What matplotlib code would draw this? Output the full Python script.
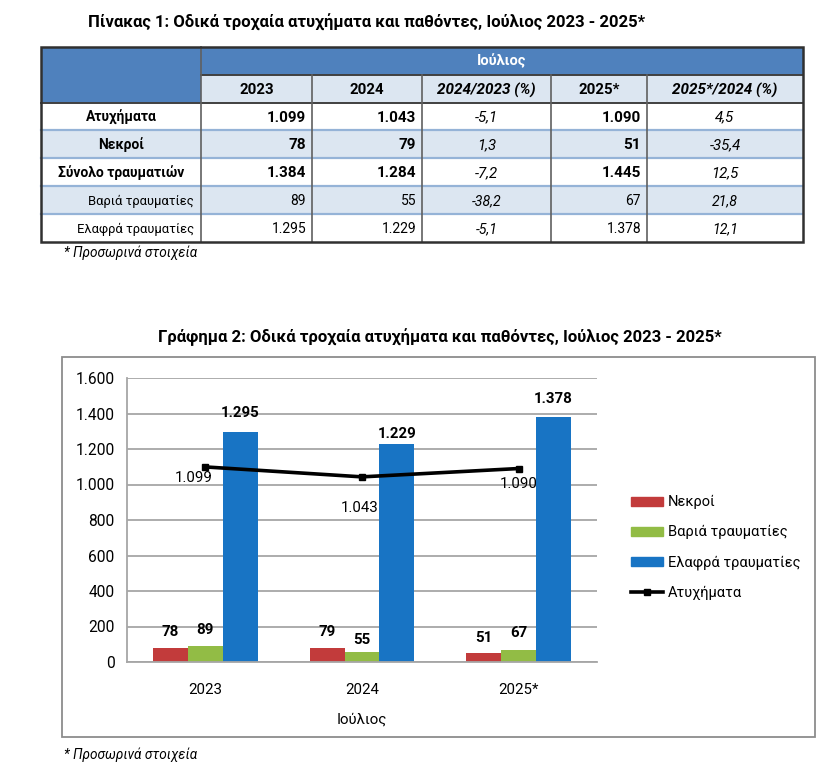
import matplotlib
matplotlib.use("Agg")
import matplotlib.pyplot as plt
from matplotlib.patches import Rectangle
from matplotlib.lines import Line2D
from matplotlib.patches import Patch

plt.rcParams['font.family'] = ['Roboto', 'DejaVu Sans']

# ---------------- data ----------------
table_title = "Πίνακας 1: Οδικά τροχαία ατυχήματα και παθόντες, Ιούλιος 2023 - 2025*"
chart_title = "Γράφημα 2: Οδικά τροχαία ατυχήματα και παθόντες, Ιούλιος 2023 - 2025*"
month_label = "Ιούλιος"
col_headers = ["2023", "2024", "2024/2023 (%)", "2025*", "2025*/2024 (%)"]
row_labels = ["Ατυχήματα", "Νεκροί", "Σύνολο τραυματιών", "Βαριά τραυματίες", "Ελαφρά τραυματίες"]
row_bold = [True, True, True, False, False]
v2023 = [1099, 78, 1384, 89, 1295]
v2024 = [1043, 79, 1284, 55, 1229]
pct_24_23 = [-5.1, 1.3, -7.2, -38.2, -5.1]
v2025 = [1090, 51, 1445, 67, 1378]
pct_25_24 = [4.5, -35.4, 12.5, 21.8, 12.1]
footnote = "* Προσωρινά στοιχεία"

years = ["2023", "2024", "2025*"]
nekroi = [78, 79, 51]
varia = [89, 55, 67]
elafra = [1295, 1229, 1378]
atyxhmata = [1099, 1043, 1090]
series_names = ["Νεκροί", "Βαριά τραυματίες", "Ελαφρά τραυματίες", "Ατυχήματα"]
y_ticks = [0, 200, 400, 600, 800, 1000, 1200, 1400, 1600]


def fmt_int(v):
    return f"{v:,}".replace(",", ".")


def fmt_pct(v):
    return f"{v:.1f}".replace(".", ",")


W, H = 838, 769
fig = plt.figure(figsize=(W / 100, H / 100), dpi=100)
bg = fig.add_axes([0, 0, 1, 1])
bg.set_xlim(0, W)
bg.set_ylim(H, 0)
bg.axis("off")

# ---------------- table ----------------
BLUE = "#4F81BD"
LIGHT = "#DCE6F1"
col_x = [41, 201, 312, 422, 551, 647, 803]
row_y = [47, 75, 103, 130, 158, 186, 214, 242]
fs_lab = 10.0
fs_num = 11.0

bg.text(88, 22, table_title, fontsize=12.0, fontweight="bold", va="center", ha="left", color="#000000")

# header backgrounds
bg.add_patch(Rectangle((col_x[0], row_y[0]), col_x[1] - col_x[0], row_y[2] - row_y[0], fc=BLUE, ec="none"))
bg.add_patch(Rectangle((col_x[1], row_y[0]), col_x[-1] - col_x[1], row_y[1] - row_y[0], fc=BLUE, ec="none"))
bg.add_patch(Rectangle((col_x[1], row_y[1]), col_x[-1] - col_x[1], row_y[2] - row_y[1], fc=LIGHT, ec="none"))
bg.text((col_x[1] + col_x[-1]) / 2, (row_y[0] + row_y[1]) / 2, month_label, color="white",
        fontsize=10.5, fontweight="bold", ha="center", va="center")
for j, h in enumerate(col_headers):
    cx = (col_x[j + 1] + col_x[j + 2]) / 2
    style = "italic" if "%" in h else "normal"
    bg.text(cx, (row_y[1] + row_y[2]) / 2 + 1, h, fontsize=11.0 if "%" in h else 10.8,
            fontweight="bold", style=style, ha="center", va="center")

cols = [v2023, v2024, pct_24_23, v2025, pct_25_24]
for i, lab in enumerate(row_labels):
    y0, y1 = row_y[i + 2], row_y[i + 3]
    yc = (y0 + y1) / 2 + 1
    fc = LIGHT if i % 2 == 1 else "white"
    bg.add_patch(Rectangle((col_x[0], y0), col_x[-1] - col_x[0], y1 - y0, fc=fc, ec="none"))
    b = row_bold[i]
    if b:
        bg.text((col_x[0] + col_x[1]) / 2, yc, lab, fontsize=fs_lab, fontweight="bold", ha="center", va="center")
    else:
        bg.text(col_x[1] - 7, yc, lab, fontsize=fs_lab - 0.6, ha="right", va="center")
    for j, col in enumerate(cols):
        v = col[i]
        if j in (2, 4):
            bg.text((col_x[j + 1] + col_x[j + 2]) / 2, yc, fmt_pct(v), fontsize=10.8 if b else 10.2,
                    style="italic", ha="center", va="center")
        else:
            bg.text(col_x[j + 2] - 6, yc, fmt_int(v), fontsize=fs_num if b else fs_num - 1.0,
                    fontweight="bold" if b else "normal", ha="right", va="center")

# grid lines of table
for y in row_y[3:-1]:
    bg.plot([col_x[0], col_x[-1]], [y, y], color="#95B3D7", lw=1.6, zorder=3)
bg.plot([col_x[1], col_x[-1]], [row_y[1], row_y[1]], color="#404040", lw=1.4, zorder=3)
bg.plot([col_x[0], col_x[-1]], [row_y[2], row_y[2]], color="#404040", lw=1.4, zorder=3)
for k, x in enumerate(col_x[1:-1]):
    ytop = row_y[0] if k == 0 else row_y[1]
    bg.plot([x, x], [ytop, row_y[-1]], color="#606060", lw=1.2, zorder=3)
bg.add_patch(Rectangle((col_x[0], row_y[0]), col_x[-1] - col_x[0], row_y[-1] - row_y[0],
                       fc="none", ec="#303030", lw=1.8, zorder=4))
bg.text(64, 253, footnote, fontsize=9.8, style="italic", ha="left", va="center")

# ---------------- chart ----------------
bg.text(440, 337, chart_title, fontsize=12.0, fontweight="bold", ha="center", va="center")
bg.add_patch(Rectangle((62, 357), 815 - 62, 737 - 357, fc="none", ec="#8C8C8C", lw=1.3))
bg.text(64, 755, footnote, fontsize=9.8, style="italic", ha="left", va="center")

ax_l, ax_r, ax_t, ax_b = 127, 597, 378, 662
ax = fig.add_axes([ax_l / W, 1 - ax_b / H, (ax_r - ax_l) / W, (ax_b - ax_t) / H])
ax.set_facecolor("none")
x = list(range(len(years)))
bw = 0.223
colors = ["#C23B3B", "#92BC45", "#1874C4"]
bar_series = [nekroi, varia, elafra]
offsets = [-bw, 0, bw]
label_gap = [[16, 16, 15], [16, 12, 17], [19, 10, 18]]
for s, (vals, c, off) in enumerate(zip(bar_series, colors, offsets)):
    xs = [xi + off for xi in x]
    ax.bar(xs, vals, width=bw, color=c, zorder=2, label=series_names[s])
    for k, (xx, v) in enumerate(zip(xs, vals)):
        ax.annotate(fmt_int(v), (xx, v), xytext=(0, label_gap[s][k] * 0.72), textcoords="offset points",
                    ha="center", va="center", fontsize=10.8, fontweight="bold", zorder=5)

ax.plot(x, atyxhmata, color="black", lw=2.6, marker="s", ms=4.5, zorder=4, label=series_names[3])
line_off = [(-12, 11), (-2, 31), (0, 15)]
for xi, v, (dx, dy) in zip(x, atyxhmata, line_off):
    ax.annotate(fmt_int(v), (xi, v), xytext=(dx * 0.72, -dy * 0.72), textcoords="offset points",
                ha="center", va="center", fontsize=10.8, zorder=5)

ax.set_xlim(-0.5, len(years) - 0.5)
ax.set_ylim(0, 1600)
ax.set_yticks(y_ticks)
ax.set_yticklabels([fmt_int(t) for t in y_ticks], fontsize=11.2)
ax.set_xticks(x)
ax.set_xticklabels(years, fontsize=10.8)
ax.tick_params(axis="both", length=0, pad=9)
ax.tick_params(axis="x", pad=15)
ax.yaxis.grid(True, color="#A6A6A6", lw=1.3, zorder=0)
ax.set_axisbelow(True)
for sp in ["top", "right"]:
    ax.spines[sp].set_visible(False)
ax.spines["left"].set_color("#A6A6A6")
ax.spines["left"].set_linewidth(1.3)
ax.spines["bottom"].set_color("#A6A6A6")
ax.spines["bottom"].set_linewidth(1.3)
ax.set_xlabel(month_label, fontsize=10.8, labelpad=11)

handles = [Patch(color=colors[0], label=series_names[0]),
           Patch(color=colors[1], label=series_names[1]),
           Patch(color=colors[2], label=series_names[2]),
           Line2D([0], [0], color="black", lw=2.6, marker="s", ms=4, label=series_names[3])]
fig.legend(handles=handles, loc="upper left", bbox_to_anchor=(618 / W, 1 - 482 / H), frameon=False,
           fontsize=10.5, handlelength=2.2, handleheight=0.6, handletextpad=0.3, labelspacing=1.1)

fig.savefig("out.png", dpi=100)
